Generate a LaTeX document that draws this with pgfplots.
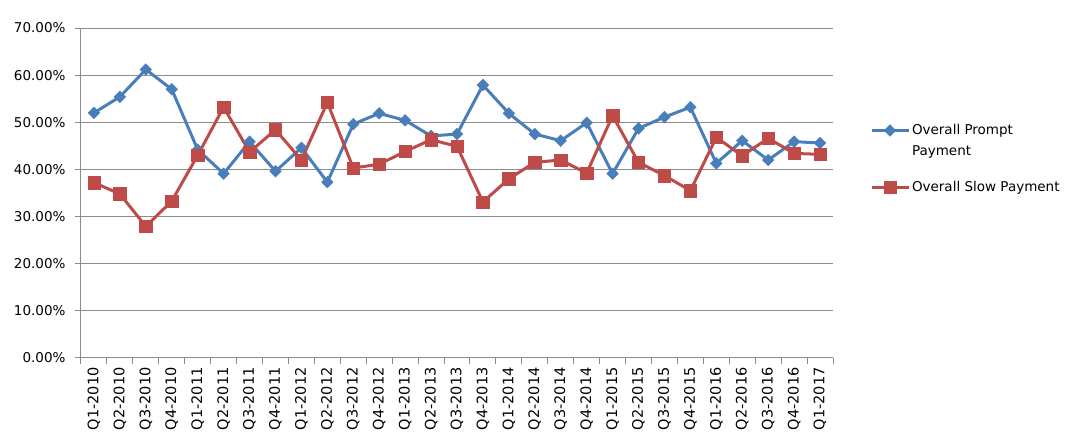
\documentclass[border=0pt]{standalone}
\usepackage{fontspec}
\setmainfont{DejaVu Sans}
\usepackage{pgfplots}
\pgfplotsset{compat=1.18}
\definecolor{pblue}{HTML}{4A7EBB}
\definecolor{sred}{HTML}{BE4B48}
\definecolor{gridg}{HTML}{8C8C8C}
\newcommand{\tfont}{\fontsize{13.5}{16}\selectfont}
\begin{document}
\begin{tikzpicture}
\begin{axis}[
  scale only axis, width=752pt, height=330pt,
  xmin=-0.5, xmax=28.5, ymin=0, ymax=70,
  axis lines*=left,
  axis line style={-, gridg, line width=1pt},
  ymajorgrids, grid style={gridg, line width=1pt},
  tick align=outside, major tick length=6pt,
  tick style={gridg, line width=1pt},
  ytick={0,10,...,70},
  /pgf/number format/assume math mode=true,
  yticklabel={\pgfmathprintnumber[fixed,fixed zerofill,precision=2]{\tick}\%},
  yticklabel style={font=\tfont, black, xshift=-6pt},
  xtick={-0.5,0.5,...,28.5},
  x tick label as interval,
  xticklabels={Q1-2010,Q2-2010,Q3-2010,Q4-2010,Q1-2011,Q2-2011,Q3-2011,Q4-2011,Q1-2012,Q2-2012,Q3-2012,Q4-2012,Q1-2013,Q2-2013,Q3-2013,Q4-2013,Q1-2014,Q2-2014,Q3-2014,Q4-2014,Q1-2015,Q2-2015,Q3-2015,Q4-2015,Q1-2016,Q2-2016,Q3-2016,Q4-2016,Q1-2017},
  xticklabel style={font=\fontsize{14.5}{16}\selectfont, black, rotate=90, anchor=east},
  legend style={draw=none, at={(1.045,0.72)}, anchor=north west, font=\tfont,
    cells={anchor=west}, row sep=41pt},
  legend image code/.code={\draw[mark repeat=2,mark phase=2] plot coordinates {(0cm,0cm)(0.65cm,0cm)(1.3cm,0cm)};},
]
\addplot[pblue, line width=3pt, mark=square*, mark size=4.1pt, mark options={solid, rotate=45, fill=pblue, line width=0.5pt}] coordinates {
(0,52.0)(1,55.4)(2,61.2)(3,57.0)(4,44.2)(5,39.1)(6,45.9)(7,39.6)(8,44.6)(9,37.3)
(10,49.6)(11,51.9)(12,50.4)(13,47.1)(14,47.5)(15,57.9)(16,51.9)(17,47.5)(18,46.1)(19,49.9)
(20,39.1)(21,48.7)(22,51.1)(23,53.2)(24,41.3)(25,46.1)(26,42.0)(27,45.9)(28,45.6)};
\addlegendentry{\makebox[0pt][l]{\raisebox{-21pt}[0pt][0pt]{Payment}}Overall Prompt}
\addplot[sred, line width=3pt, mark=square*, mark size=6.2pt, mark options={solid, fill=sred, line width=0.5pt}] coordinates {
(0,37.2)(1,34.8)(2,27.9)(3,33.3)(4,43.0)(5,53.2)(6,43.7)(7,48.4)(8,42.0)(9,54.2)
(10,40.3)(11,41.1)(12,43.8)(13,46.3)(14,44.9)(15,33.1)(16,38.0)(17,41.5)(18,42.0)(19,39.2)
(20,51.4)(21,41.5)(22,38.7)(23,35.5)(24,46.8)(25,42.9)(26,46.6)(27,43.4)(28,43.2)};
\addlegendentry{Overall Slow Payment}
\end{axis}
\pgfresetboundingbox
\path (current axis.south west) ++(-81pt,-89pt) rectangle ++(1077pt,447pt);
\end{tikzpicture}
\end{document}
